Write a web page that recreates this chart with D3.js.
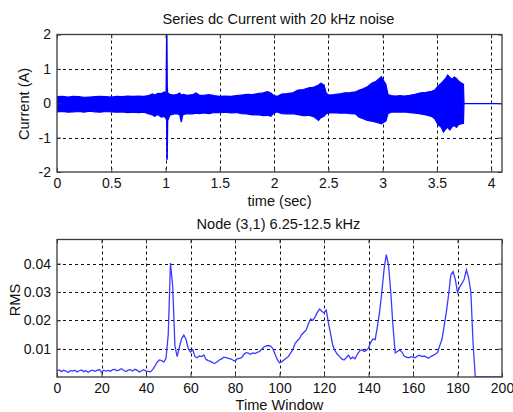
<!DOCTYPE html>
<html><head><meta charset="utf-8">
<script src="https://cdn.jsdelivr.net/npm/d3@7"></script>
<style>
html,body{margin:0;padding:0;background:#fff;}
svg{display:block;font-family:"Liberation Sans",Arial,sans-serif;}
</style></head>
<body>
<svg id="c" width="513" height="412"></svg>
<script>
// ---------- Data: top panel (envelope of the noisy current signal) ----------
const curT = [0.00,0.05,0.10,0.15,0.20,0.25,0.30,0.35,0.40,0.45,0.50,0.55,0.60,0.65,0.70,0.75,0.80,0.84,0.88,0.90,0.93,0.96,0.99,1.005,1.010,1.013,1.016,1.020,1.04,1.07,1.10,1.13,1.145,1.16,1.20,1.25,1.28,1.31,1.35,1.40,1.45,1.50,1.55,1.60,1.65,1.70,1.75,1.80,1.85,1.90,1.94,1.97,2.00,2.03,2.07,2.12,2.17,2.22,2.27,2.32,2.37,2.41,2.43,2.46,2.48,2.50,2.55,2.60,2.65,2.70,2.75,2.78,2.82,2.86,2.90,2.94,2.97,2.99,3.01,3.03,3.05,3.08,3.12,3.16,3.20,3.25,3.30,3.35,3.40,3.45,3.48,3.51,3.54,3.56,3.58,3.60,3.62,3.64,3.66,3.68,3.70,3.72,3.745,3.75,4.10];
const curHi = [0.19,0.20,0.18,0.20,0.19,0.17,0.18,0.19,0.20,0.19,0.18,0.20,0.19,0.21,0.20,0.21,0.20,0.22,0.27,0.24,0.29,0.28,0.33,0.30,2.05,2.05,0.50,0.30,0.26,0.24,0.25,0.30,0.24,0.26,0.23,0.25,0.30,0.24,0.23,0.25,0.22,0.20,0.21,0.20,0.22,0.24,0.26,0.25,0.28,0.30,0.34,0.30,0.22,0.20,0.27,0.28,0.30,0.38,0.40,0.45,0.47,0.53,0.58,0.53,0.30,0.24,0.25,0.27,0.30,0.31,0.33,0.38,0.42,0.48,0.58,0.64,0.72,0.77,0.65,0.55,0.25,0.22,0.21,0.22,0.21,0.23,0.26,0.30,0.32,0.35,0.38,0.50,0.58,0.65,0.72,0.82,0.75,0.70,0.76,0.72,0.65,0.60,0.55,-0.01,-0.01];
const curLo = [-0.25,-0.24,-0.26,-0.25,-0.24,-0.26,-0.23,-0.25,-0.26,-0.24,-0.25,-0.26,-0.25,-0.27,-0.26,-0.27,-0.26,-0.30,-0.34,-0.38,-0.33,-0.40,-0.38,-0.45,-0.50,-1.65,-1.60,-0.50,-0.35,-0.32,-0.30,-0.33,-0.55,-0.33,-0.30,-0.31,-0.29,-0.30,-0.28,-0.30,-0.27,-0.27,-0.26,-0.28,-0.27,-0.30,-0.31,-0.34,-0.33,-0.36,-0.35,-0.38,-0.28,-0.25,-0.30,-0.31,-0.30,-0.33,-0.36,-0.35,-0.40,-0.50,-0.42,-0.38,-0.30,-0.28,-0.27,-0.29,-0.28,-0.30,-0.31,-0.40,-0.45,-0.50,-0.52,-0.55,-0.58,-0.60,-0.55,-0.52,-0.30,-0.26,-0.25,-0.26,-0.25,-0.27,-0.29,-0.31,-0.34,-0.38,-0.45,-0.62,-0.70,-0.84,-0.75,-0.70,-0.78,-0.68,-0.65,-0.70,-0.62,-0.60,-0.58,-0.01,-0.01];
const curXTicks = [0,0.5,1,1.5,2,2.5,3,3.5,4];
const curYTicks = [-2,-1,0,1,2];

// ---------- Data: bottom panel (RMS per time window) ----------
const rmsW = d3.range(0, 201);
const rmsV = [
 .0022,.0025,.0019,.0024,.0021,.0016,.0023,.0021,.0024,.0018,
 .0022,.0025,.0019,.0023,.0016,.0022,.0024,.0020,.0023,.0026,
 .0017,.0024,.0021,.0023,.0020,.0026,.0027,.0022,.0025,.0029,
 .0023,.0019,.0024,.0026,.0021,.0027,.0024,.0018,.0022,.0026,
 .0021,.0020,.0018,.0026,.0038,.0052,.0060,.0058,.0053,.0066,
 .0150,.0402,.0320,.0110,.0072,.0105,.0135,.0148,.0132,.0100,
 .0088,.0097,.0072,.0068,.0074,.0072,.0078,.0062,.0058,.0055,
 .0050,.0048,.0054,.0060,.0064,.0070,.0068,.0066,.0064,.0060,
 .0056,.0064,.0066,.0068,.0080,.0086,.0084,.0080,.0085,.0083,
 .0087,.0090,.0098,.0106,.0110,.0111,.0109,.0100,.0080,.0062,
 .0050,.0054,.0060,.0066,.0072,.0085,.0096,.0118,.0128,.0136,
 .0150,.0158,.0166,.0188,.0205,.0200,.0212,.0228,.0240,.0232,
 .0226,.0236,.0190,.0150,.0110,.0092,.0080,.0072,.0064,.0060,
 .0068,.0077,.0064,.0070,.0064,.0080,.0092,.0096,.0090,.0094,
 .0102,.0122,.0134,.0132,.0178,.0230,.0300,.0380,.0432,.0395,
 .0300,.0180,.0085,.0090,.0095,.0088,.0074,.0070,.0068,.0072,
 .0070,.0068,.0074,.0077,.0072,.0074,.0070,.0066,.0072,.0076,
 .0080,.0086,.0110,.0132,.0180,.0230,.0290,.0360,.0372,.0345,
 .0298,.0318,.0330,.0345,.0378,.0350,.0300,.0120,.0000,.0000,
 .0000,.0000,.0000,.0000,.0000,.0000,.0000,.0000,.0000,.0000,
 .0000];
const rmsXTicks = [0,20,40,60,80,100,120,140,160,180,200];
const rmsYTicks = [0.01,0.02,0.03,0.04];

// ---------- Drawing ----------
const svg = d3.select("#c");
const L = 57, R = 502;
const axisColor = "#3a3a3a";
const FONT = '"Liberation Sans",Arial,sans-serif';

function panel(opt) {
  const g = svg.append("g");
  const x = d3.scaleLinear().domain(opt.xDomain).range([L, R]);
  const y = d3.scaleLinear().domain(opt.yDomain).range([opt.bottom, opt.top]);
  const id = "clip" + opt.name;
  svg.append("clipPath").attr("id", id).append("rect")
    .attr("x", L).attr("y", opt.top).attr("width", R - L).attr("height", opt.bottom - opt.top);

  // grid
  g.selectAll(".gx").data(opt.xTicks.filter(t => t !== opt.xDomain[0] && t !== opt.xDomain[1]))
    .enter().append("line")
    .attr("x1", d => Math.round(x(d)) + 0.5).attr("x2", d => Math.round(x(d)) + 0.5)
    .attr("y1", opt.top).attr("y2", opt.bottom)
    .attr("stroke", "#111").attr("stroke-width", 1).attr("stroke-dasharray", "3,3");
  g.selectAll(".gy").data(opt.yTicks.filter(t => t !== opt.yDomain[0] && t !== opt.yDomain[1]))
    .enter().append("line")
    .attr("y1", d => Math.round(y(d)) + 0.5).attr("y2", d => Math.round(y(d)) + 0.5)
    .attr("x1", L).attr("x2", R)
    .attr("stroke", "#111").attr("stroke-width", 1).attr("stroke-dasharray", "3,3");

  // data
  const dg = g.append("g").attr("clip-path", `url(#${id})`);
  opt.draw(dg, x, y);

  // axes (ticks inside, MATLAB style)
  const tl = 4;
  const xb = d3.axisBottom(x).tickValues(opt.xTicks).tickSizeInner(-tl).tickSizeOuter(0).tickPadding(6).tickFormat(opt.xFmt);
  const xt = d3.axisTop(x).tickValues(opt.xTicks).tickSizeInner(-tl).tickSizeOuter(0).tickFormat("");
  const yl = d3.axisLeft(y).tickValues(opt.yTicks).tickSizeInner(-tl).tickSizeOuter(0).tickPadding(6).tickFormat(opt.yFmt);
  const yr = d3.axisRight(y).tickValues(opt.yTicks).tickSizeInner(-tl).tickSizeOuter(0).tickFormat("");
  const styleAxis = s => {
    s.select(".domain").remove();
    s.selectAll(".tick line").attr("stroke", axisColor);
    s.selectAll(".tick text").attr("fill", "#111").style("font-size", "14px").style("font-family", FONT);
  };
  g.append("g").attr("transform", `translate(0,${opt.bottom})`).call(xb).call(styleAxis);
  g.append("g").attr("transform", `translate(0,${opt.top})`).call(xt).call(styleAxis);
  g.append("g").attr("transform", `translate(${L},0)`).call(yl).call(styleAxis);
  g.append("g").attr("transform", `translate(${R},0)`).call(yr).call(styleAxis);

  g.append("rect").attr("x", L).attr("y", opt.top).attr("width", R - L).attr("height", opt.bottom - opt.top)
    .attr("fill", "none").attr("stroke", axisColor).attr("stroke-width", 1.3);

  // labels
  g.append("text").attr("x", (L + R) / 2 - 1).attr("y", opt.top - 11).attr("text-anchor", "middle")
    .style("font-size", "14.6px").attr("fill", "#111").text(opt.title);
  g.append("text").attr("x", (L + R) / 2).attr("y", opt.xLabelY).attr("text-anchor", "middle")
    .style("font-size", "14.6px").attr("fill", "#111").text(opt.xLabel);
  g.append("text").attr("transform", `translate(${opt.yLabelX},${opt.yLabelY}) rotate(-90)`)
    .attr("text-anchor", "middle").style("font-size", "14.6px").attr("fill", "#111").text(opt.yLabel);
}

panel({
  name: "top", top: 34.5, bottom: 172,
  xDomain: [0, 4.1], yDomain: [-2, 2],
  xTicks: curXTicks, yTicks: curYTicks,
  xFmt: d => String(d), yFmt: d => String(d),
  title: "Series dc Current with 20 kHz noise", xLabel: "time (sec)", yLabel: "Current (A)",
  xLabelY: 206, yLabelX: 29, yLabelY: 104,
  draw: (g, x, y) => {
    const data = curT.map((t, i) => ({t, hi: curHi[i], lo: curLo[i]}));
    const area = d3.area().x(d => x(d.t)).y0(d => y(d.lo)).y1(d => y(d.hi));
    g.append("path").datum(data).attr("d", area)
      .attr("fill", "#0000ff").attr("stroke", "#0000ff").attr("stroke-width", 1.2)
      .attr("stroke-linejoin", "miter");
  }
});

panel({
  name: "bot", top: 239.5, bottom: 377,
  xDomain: [0, 200], yDomain: [0, 0.0485],
  xTicks: rmsXTicks, yTicks: rmsYTicks,
  xFmt: d => String(d), yFmt: d => d3.format(".2f")(d),
  title: "Node (3,1) 6.25-12.5 kHz", xLabel: "Time Window", yLabel: "RMS",
  xLabelY: 409.5, yLabelX: 20, yLabelY: 300,
  draw: (g, x, y) => {
    const line = d3.line().x((d, i) => x(rmsW[i])).y(d => y(d));
    g.append("path").datum(rmsV).attr("d", line)
      .attr("fill", "none").attr("stroke", "#3b3bff").attr("stroke-width", 1.3);
  }
});
</script>
</body></html>
